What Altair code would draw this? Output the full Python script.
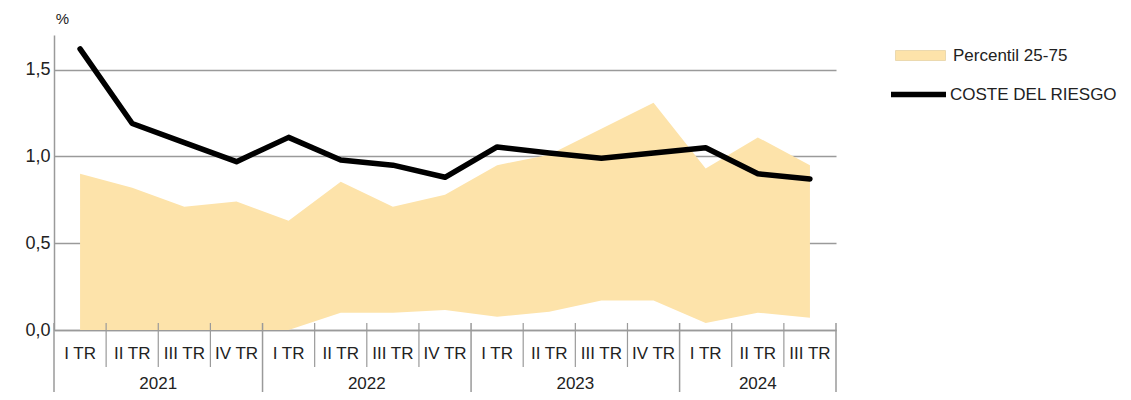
import altair as alt
import pandas as pd

quarters = ["I TR", "II TR", "III TR", "IV TR",
            "I TR", "II TR", "III TR", "IV TR",
            "I TR", "II TR", "III TR", "IV TR",
            "I TR", "II TR", "III TR"]
years = ["2021", "2022", "2023", "2024"]
year_quarters = [4, 4, 4, 3]
coste = [1.62, 1.19, 1.08, 0.97, 1.11, 0.98, 0.95, 0.88,
         1.055, 1.02, 0.99, 1.02, 1.05, 0.90, 0.87]
p75 = [0.90, 0.82, 0.71, 0.74, 0.63, 0.855, 0.71, 0.78,
       0.95, 1.01, 1.16, 1.31, 0.93, 1.11, 0.95]
p25 = [0.0, 0.0, 0.0, 0.0, 0.0, 0.10, 0.10, 0.115,
       0.077, 0.105, 0.17, 0.17, 0.04, 0.10, 0.07]

FONT = "Liberation Sans"
TXT = "#222222"
GRID = "#9a9a9a"
W, H = 782, 295

n = len(quarters)
df = pd.DataFrame({
    "x": [i + 0.5 for i in range(n)],
    "q": quarters,
    "coste": coste,
    "p75": p75,
    "p25": p25,
    "band": ["Percentil 25-75"] * n,
    "serie": ["COSTE DEL RIESGO"] * n,
})

yb, start = [], 0
yc = []
for y, k in zip(years, year_quarters):
    yc.append(start + k / 2)
    yb.append(start)
    start += k
yb.append(start)
years_df = pd.DataFrame({"x": yc, "year": years})
year_sep = pd.DataFrame({"b": yb})
q_sep = pd.DataFrame({"b": [i for i in range(1, n) if i not in yb]})

xscale = alt.Scale(domain=[0, n], nice=False, zero=False)
xax = alt.Axis(labels=False, ticks=False, grid=False, title=None,
               domain=True, domainColor=GRID, domainWidth=1.5)
xenc = alt.X("x:Q", scale=xscale, axis=xax)

yscale = alt.Scale(domain=[0, 1.7], nice=False)
yax = alt.Axis(values=[0, 0.5, 1.0, 1.5],
               labelExpr="replace(format(datum.value, '.1f'), '.', ',')",
               grid=True, gridColor=GRID, gridWidth=1.5,
               ticks=False, domain=True, domainColor=GRID, domainWidth=1.5,
               labelFont=FONT, labelFontSize=18, labelColor=TXT, labelPadding=4,
               title="%", titleAngle=0, titleX=8, titleY=-17,
               titleAlign="center", titleBaseline="middle",
               titleFont=FONT, titleFontSize=15, titleFontWeight="normal",
               titleColor=TXT)

area = alt.Chart(df).mark_area(opacity=1).encode(
    x=xenc,
    y=alt.Y("p25:Q", scale=yscale, axis=yax),
    y2="p75:Q",
    fill=alt.Fill("band:N",
                  scale=alt.Scale(domain=["Percentil 25-75"], range=["#FDE3AA"]),
                  legend=alt.Legend(title=None, orient="none", legendX=841, legendY=-5,
                                    symbolType="M-1,-0.2H1V0.2H-1Z", symbolSize=2500,
                                    symbolStrokeColor="#d9c08a", symbolStrokeWidth=0.5,
                                    labelFont=FONT, labelFontSize=17, labelColor=TXT,
                                    labelOffset=7, labelLimit=300)),
)

line = alt.Chart(df).mark_line(strokeWidth=5.5, strokeCap="round", strokeJoin="round").encode(
    x=alt.X("x:Q", scale=xscale),
    y=alt.Y("coste:Q", scale=yscale),
    stroke=alt.Stroke("serie:N",
                      scale=alt.Scale(domain=["COSTE DEL RIESGO"], range=["#000000"]),
                      legend=alt.Legend(title=None, orient="none", legendX=834, legendY=29,
                                        symbolType="stroke", symbolSize=3025,
                                        symbolStrokeWidth=5.5,
                                        labelFont=FONT, labelFontSize=17, labelColor=TXT,
                                        labelOffset=1, labelLimit=300)),
)

qsep = alt.Chart(q_sep).mark_rule(color=GRID, strokeWidth=1.2).encode(
    x=alt.X("b:Q", scale=xscale),
    y=alt.value(H - 7),
    y2=alt.value(H + 37),
)
ysep = alt.Chart(year_sep).mark_rule(color=GRID, strokeWidth=1.5).encode(
    x=alt.X("b:Q", scale=xscale),
    y=alt.value(H - 7),
    y2=alt.value(H + 80),
)
qlab = alt.Chart(df).mark_text(font=FONT, fontSize=17, color=TXT, baseline="middle").encode(
    x=alt.X("x:Q", scale=xscale),
    y=alt.value(H + 24),
    text="q:N",
)
ylab = alt.Chart(years_df).mark_text(font=FONT, fontSize=17, color=TXT, baseline="middle").encode(
    x=alt.X("x:Q", scale=xscale),
    y=alt.value(H + 54),
    text="year:N",
)

chart = alt.layer(area, line, qsep, ysep, qlab, ylab).resolve_legend(
    fill="independent", stroke="independent"
).properties(
    width=W, height=H,
    autosize=alt.AutoSizeParams(type="none"),
    padding={"left": 46, "top": 27, "right": 287, "bottom": 62},
).configure_view(stroke=None).configure_legend(padding=0)

chart.save("out.html", embed_options={"renderer": "svg", "actions": False})
